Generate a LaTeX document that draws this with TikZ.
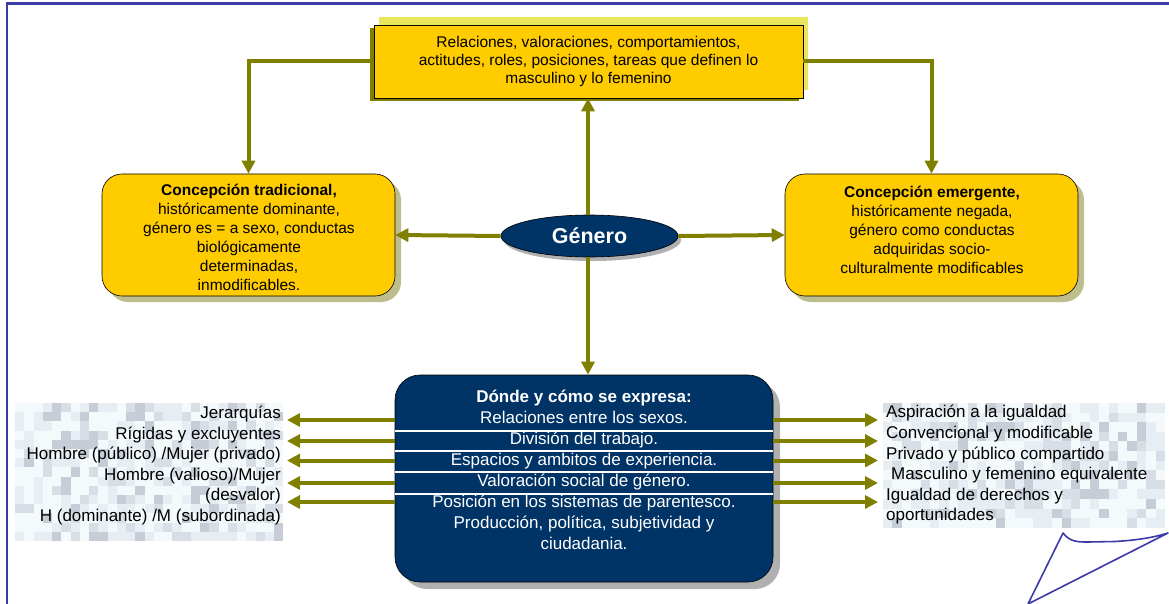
\documentclass[tikz,border=0pt]{standalone}
\usepackage{fontspec}
\setmainfont{Liberation Sans}
\usetikzlibrary{arrows.meta,shapes.geometric,shadows}
\definecolor{arrowol}{HTML}{808000}
\definecolor{gold}{HTML}{FFCC00}
\definecolor{lightyel}{HTML}{E8E65A}
\definecolor{navy}{HTML}{003366}
\definecolor{boxshade}{HTML}{BDBD8E}
\definecolor{grayshade}{HTML}{B0B0B0}
\definecolor{frameblue}{HTML}{3A3AA8}
\definecolor{pbase}{HTML}{F4F9FC}
\definecolor{pb}{HTML}{E6EEF4}
\definecolor{pc}{HTML}{D8DEE6}
\definecolor{pd}{HTML}{C6CDD6}
\begin{document}
\begin{tikzpicture}[x=1pt,y=-1pt,
  arr/.style={draw=arrowol,line width=4pt,-{Triangle[length=13pt,width=13pt]}},
  topbox/.style={draw=black,line width=0.6pt,fill=gold,minimum width=429pt,minimum height=73pt,
    inner sep=0pt,align=center,font=\fontsize{15.5}{18}\selectfont,
    drop shadow={shadow xshift=5pt,shadow yshift=8pt,fill=lightyel,opacity=1},
    drop shadow={shadow xshift=-4pt,shadow yshift=-3pt,fill=arrowol,opacity=1}},
  sidebox/.style={draw=black,line width=0.6pt,fill=gold,rounded corners=20pt,
    minimum width=293pt,minimum height=122pt,inner sep=0pt,
    drop shadow={shadow xshift=6pt,shadow yshift=-6pt,fill=boxshade,opacity=1}},
  boxtext/.style={align=center,inner sep=0pt,font=\fontsize{15.5}{19}\selectfont},
  genero/.style={ellipse,draw=black,line width=0.6pt,fill=navy,text=white,
    minimum width=177pt,minimum height=42pt,inner sep=0pt,
    font=\fontsize{21.5}{24}\selectfont\bfseries,
    drop shadow={shadow xshift=3pt,shadow yshift=-4pt,fill=grayshade,opacity=1}},
  botbox/.style={draw=black,line width=0.6pt,fill=navy,rounded corners=25pt,
    minimum width=378pt,minimum height=207pt,inner sep=0pt,
    drop shadow={shadow xshift=7pt,shadow yshift=-7pt,fill=grayshade,opacity=1}},
  bottext/.style={align=center,inner sep=0pt,text=white,font=\fontsize{17}{21}\selectfont},
  sidetext/.style={inner sep=0pt,font=\fontsize{17}{20.6}\selectfont}
]
\useasboundingbox (0,0) rectangle (1169,604);
% frame
\draw[frameblue,line width=3pt] (6,3.5) -- (1169,3.5);
\draw[frameblue,line width=2.5pt] (7,3.5) -- (7,604);
% pixel patterns
\pgfmathsetseed{7}
\fill[pbase] (15,403) rectangle (283,541);
\foreach \i in {0,...,28}{\foreach \j in {0,...,14}{
  \pgfmathrandominteger{\r}{0}{11}
  \ifnum\r>4\relax
    \ifnum\r<8\relax\def\cc{pb}\else\ifnum\r<10\relax\def\cc{pc}\else\def\cc{pd}\fi\fi
    \fill[\cc] ({15+\i*9.25},{403+\j*9.2}) rectangle ++(9.25,9.2);
  \fi}}
\fill[pbase] (883,403) rectangle (1165,528);
\foreach \i in {0,...,29}{\foreach \j in {0,...,12}{
  \pgfmathrandominteger{\r}{0}{11}
  \ifnum\r>4\relax
    \ifnum\r<8\relax\def\cc{pb}\else\ifnum\r<10\relax\def\cc{pc}\else\def\cc{pd}\fi\fi
    \fill[\cc] ({883+\i*9.4},{403+\j*9.6}) rectangle ++(9.4,9.6);
  \fi}}
% nodes
\node[topbox] (top) at (588.5,61.5) {Relaciones, valoraciones, comportamientos,\\actitudes, roles, posiciones, tareas que definen lo\\masculino y lo femenino};
\node[sidebox] (left) at (248.5,235) {};
\node[sidebox] (right) at (931.5,235) {};
\node[boxtext] (lefttxt) at (249,237.5) {\textbf{Concepción tradicional,}\\históricamente dominante,\\género es = a sexo, conductas\\biológicamente\\determinadas,\\inmodificables.};
\node[boxtext] (righttxt) at (932,229.5) {\textbf{Concepción emergente,}\\históricamente negada,\\género como conductas\\adquiridas socio-\\culturalmente modificables};
\node[genero] (gen) at (589.5,236) {Género};
\node[botbox] (bot) at (584,478.5) {};
\node[bottext] (bottxt) at (584,469.5) {\textbf{Dónde y cómo se expresa:}\\Relaciones entre los sexos.\\División del trabajo.\\Espacios y ambitos de experiencia.\\Valoración social de género.\\Posición en los sistemas de parentesco.\\Producción, política, subjetividad y\\ciudadania.};
% white separators over the text
\foreach \yy in {431,451,472,494}
  \draw[white,line width=2.5pt] (395,\yy) -- (773,\yy);
% side texts
\node[sidetext,anchor=east,align=right] (ltxt) at (281,465.5) {Jerarquías\\Rígidas y excluyentes\\Hombre (público) /Mujer (privado)\\Hombre (valioso)/Mujer\\(desvalor)\\H (dominante) /M (subordinada)};
\node[sidetext,anchor=west,align=left] (rtxt) at (886,465) {Aspiración a la igualdad\\Convencional y modificable\\Privado y público compartido\\\hspace*{5pt}Masculino y femenino equivalente\\Igualdad de derechos y\\oportunidades};
% connectors
\coordinate (ax) at (588,0);
\draw[arr] (gen.north -| ax) -- (top.south -| ax);
\draw[arr] (gen.south -| ax) -- (bot.north -| ax);
\draw[arr] (top.west) -| (left.north);
\draw[arr] (top.east) -| (right.north);
\draw[arr] (gen.west) -- (left.east);
\draw[arr] (gen.east) -- (right.west);
\foreach \k/\yy in {1/420,2/441,3/460.5,4/483,5/502}{
  \coordinate (l\k) at (287,\yy);
  \coordinate (r\k) at (878,\yy);
  \draw[arr] (bot.west |- l\k) -- (l\k);
  \draw[arr] (bot.east |- r\k) -- (r\k);
}
% page curl
\draw[frameblue,line width=1.6pt,line join=round]
  (1063,533) .. controls (1070,542) and (1078,542) .. (1088,542)
  -- (1115,541.5) .. controls (1140,540) and (1155,537) .. (1168,533)
  -- (1028,604) -- cycle;
\end{tikzpicture}
\end{document}
